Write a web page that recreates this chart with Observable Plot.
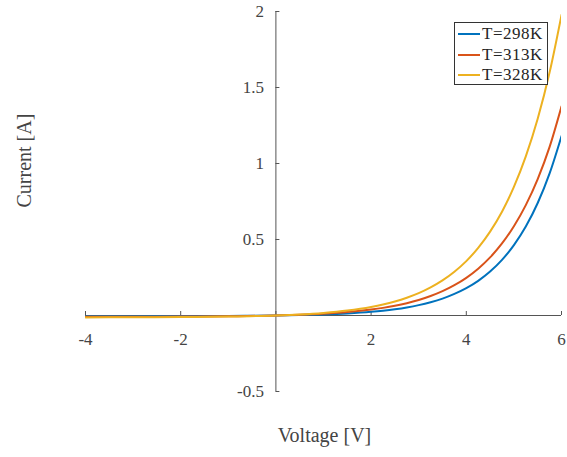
<!DOCTYPE html>
<html><head><meta charset="utf-8">
<script src="https://cdn.jsdelivr.net/npm/d3@7"></script>
<script src="https://cdn.jsdelivr.net/npm/@observablehq/plot@0.6"></script>
<style>
body{margin:0;background:#fff;}
#wrap{position:relative;width:567px;height:457px;}
#legend{position:absolute;left:454px;top:22px;width:94px;height:63px;border:1px solid #333;background:#fff;box-sizing:border-box;font-family:"Liberation Serif",serif;font-size:17px;color:#262626;}
.row{position:absolute;left:0;height:20px;display:flex;align-items:center;white-space:nowrap;letter-spacing:0.5px;}
.sw{display:inline-block;width:22px;height:2px;margin-left:3px;margin-right:2px;}
</style></head><body>
<div id="wrap"><div id="legend"></div></div>
<script>
const voltage = [-4,-3,-2,-1,0,0.5,1,1.5,2,2.25,2.5,2.75,3,3.25,3.5,3.75,4,4.25,4.5,4.75,5,5.25,5.5,5.75,6];
const current298 = [-0.0044,-0.0042,-0.0038,-0.0027,0,0.0026,0.0069,0.0136,0.0242,0.0318,0.0413,0.0532,0.0683,0.0873,0.111,0.142,0.18,0.228,0.289,0.366,0.463,0.585,0.74,0.935,1.18];
const current313 = [-0.0086,-0.0082,-0.0073,-0.0051,0,0.0047,0.0118,0.0225,0.039,0.0502,0.064,0.081,0.102,0.128,0.16,0.1995,0.248,0.308,0.382,0.474,0.587,0.726,0.897,1.109,1.375];
const current328 = [-0.0124,-0.0118,-0.0105,-0.0073,0,0.0067,0.017,0.0325,0.0562,0.0724,0.0923,0.117,0.147,0.185,0.231,0.288,0.358,0.445,0.552,0.683,0.846,1.047,1.294,1.6,1.977];
const seriesNames = ["T=298K","T=313K","T=328K"];
const seriesColors = ["#0072BD","#D95319","#EDB120"];
const xTickValues = [-4,-2,2,4,6];
const xTickLabels = ["-4","-2","2","4","6"];
const yTickValues = [-0.5,0.5,1,1.5,2];
const yTickLabels = ["-0.5","0.5","1","1.5","2"];
const xAxisTicks = [-4,-2,0,2,4,6];
const yAxisTicks = [-0.5,0,0.5,1,1.5,2];

const allSeries = [current298, current313, current328];
const tables = allSeries.map(s => voltage.map((v,i) => ({v, c: s[i]})));

const axisColor = "#555";
const textColor = "#444";

const chart = Plot.plot({
  width: 567, height: 457,
  marginLeft: 85, marginRight: 6, marginTop: 11, marginBottom: 66,
  x: {domain: [-4, 6], axis: null},
  y: {domain: [-0.5, 2], axis: null},
  style: {fontFamily: "'Liberation Serif', serif", background: "#fff"},
  marks: [
    Plot.ruleY([0], {x1: -4, x2: 6, stroke: axisColor, strokeWidth: 1}),
    Plot.ruleX([0], {y1: -0.5, y2: 2, stroke: axisColor, strokeWidth: 1}),
    Plot.ruleX(xAxisTicks, {x: d => d, y1: 0, y2: 0, insetTop: -4, stroke: axisColor}),
    Plot.ruleY(yAxisTicks, {y: d => d, x1: 0, x2: 0, insetRight: -4, stroke: axisColor}),
    Plot.text(xTickValues, {x: d => d, y: 0, text: (d, i) => xTickLabels[i], dy: 24, fontSize: 17, fill: textColor}),
    Plot.text(yTickValues, {x: 0, y: d => d, text: (d, i) => yTickLabels[i], textAnchor: "end", dx: -12, fontSize: 17, fill: textColor}),
    ...tables.map((t, k) => Plot.line(t, {x: "v", y: "c", stroke: seriesColors[k], strokeWidth: 2, curve: "monotone-x", clip: true})),
    Plot.text(["Voltage [V]"], {frameAnchor: "bottom", dy: 50, dx: 1, fontSize: 20, fill: textColor}),
    Plot.text(["Current [A]"], {frameAnchor: "left", rotate: -90, dx: -61, dy: 6, fontSize: 20, fill: textColor})
  ]
});
const wrap = document.getElementById("wrap");
wrap.insertBefore(chart, wrap.firstChild);

const legend = document.getElementById("legend");
seriesNames.forEach((name, k) => {
  const row = document.createElement("div");
  row.className = "row";
  row.style.top = (1 + k * 20.5) + "px";
  const sw = document.createElement("span");
  sw.className = "sw";
  sw.style.background = seriesColors[k];
  row.appendChild(sw);
  row.appendChild(document.createTextNode(name));
  legend.appendChild(row);
});
</script>
</body></html>
